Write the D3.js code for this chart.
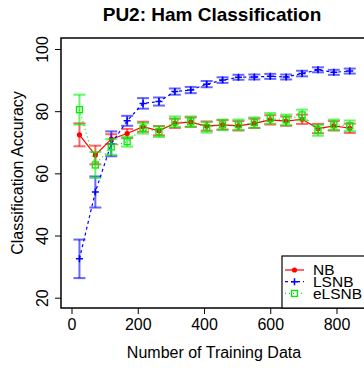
<!DOCTYPE html>
<html lang="en">
<head>
<meta charset="UTF-8">
<title>PU2: Ham Classification</title>
<style>
  body { margin: 0; background: #fff; }
  svg { display: block; }
  text { font-family: "Liberation Sans", Arial, sans-serif; fill: #000; }
</style>
</head>
<body>
<svg width="364" height="368"></svg>
<script src="https://d3js.org/d3.v7.min.js"></script>
<script>
// training set sizes
var trainSizes = [24, 72, 120, 168, 216, 264, 312, 360, 408, 456, 504, 552, 600, 648, 696, 744, 792, 840];

// mean accuracy per method
var nbMean    = [72.4, 65.9, 71.0, 72.8, 75.0, 73.7, 76.1, 76.5, 75.2, 75.6, 75.3, 76.1, 77.2, 76.8, 77.4, 74.4, 75.3, 74.5];
var lsnbMean  = [32.5, 54.0, 69.5, 76.9, 82.5, 83.1, 86.3, 86.8, 88.7, 90.0, 90.9, 91.0, 91.2, 91.0, 92.1, 93.3, 92.5, 92.9];
var elsnbMean = [80.5, 62.7, 68.5, 70.2, 74.5, 73.4, 76.6, 76.6, 74.8, 75.6, 75.6, 76.3, 77.7, 77.2, 78.8, 73.8, 75.6, 75.3];

// half-width of the error bars
var nbErr    = [3.7, 3.0, 1.6, 1.5, 1.6, 1.5, 1.5, 1.5, 1.5, 1.5, 1.5, 1.5, 1.5, 1.5, 1.5, 1.5, 1.5, 1.5];
var lsnbErr  = [6.2, 5.0, 4.0, 1.6, 1.7, 1.3, 1.0, 1.0, 1.0, 0.9, 0.8, 0.8, 0.8, 0.8, 0.9, 0.8, 0.8, 0.8];
var elsnbErr = [4.8, 4.2, 2.5, 1.6, 1.7, 1.7, 1.7, 1.7, 1.7, 1.7, 1.7, 1.7, 1.7, 1.7, 1.7, 1.7, 1.7, 1.7];

var xTicks = [0, 200, 400, 600, 800];
var yTicks = [20, 40, 60, 80, 100];

var svg = d3.select("svg");
var plotL = 61, plotR = 366, plotT = 38, plotB = 308;

var x = d3.scaleLinear().domain([0, 800]).range([71.5, 336.5]);
var y = d3.scaleLinear().domain([20, 100]).range([297.7, 49]);

var series = [
  { name: "NB",    mean: nbMean,    err: nbErr,    color: "#ff0000", dash: null,  mark: "dot" },
  { name: "LSNB",  mean: lsnbMean,  err: lsnbErr,  color: "#0000ff", dash: "3,3", mark: "plus" },
  { name: "eLSNB", mean: elsnbMean, err: elsnbErr, color: "#00ee00", dash: "1,3", mark: "square" }
];

// title
svg.append("text")
    .attr("x", 212).attr("y", 21)
    .attr("text-anchor", "middle")
    .style("font-size", "19px").style("font-weight", "bold")
    .text("PU2: Ham Classification");

// axes
var xAxis = svg.append("g")
    .attr("transform", "translate(0," + plotB + ")")
    .call(d3.axisBottom(x).tickValues(xTicks).tickSize(6).tickPadding(5));
var yAxis = svg.append("g")
    .attr("transform", "translate(" + plotL + ",0)")
    .call(d3.axisLeft(y).tickValues(yTicks).tickSize(6).tickPadding(4));
[xAxis, yAxis].forEach(function(g) {
  g.select(".domain").remove();
  g.selectAll("line").attr("stroke", "#000");
  g.selectAll("text").style("font-size", "16px").attr("fill", "#000");
});
yAxis.selectAll(".tick text")
    .attr("text-anchor", "middle")
    .attr("x", 0).attr("y", 0).attr("dy", "0.35em")
    .attr("transform", "translate(-19,0) rotate(-90)");

svg.append("text")
    .attr("x", 214).attr("y", 358)
    .attr("text-anchor", "middle")
    .style("font-size", "16px")
    .text("Number of Training Data");
svg.append("text")
    .attr("transform", "translate(23," + (plotT + plotB) / 2 + ") rotate(-90)")
    .attr("text-anchor", "middle")
    .style("font-size", "16px")
    .text("Classification Accuracy");

var plot = svg.append("g");

var line = d3.line()
    .x(function(d) { return x(d.x); })
    .y(function(d) { return y(d.y); });

series.forEach(function(s) {
  var pts = trainSizes.map(function(t, i) { return { x: t, y: s.mean[i], e: s.err[i] }; });
  var g = plot.append("g");

  // error bars
  var eb = g.append("g").attr("stroke", s.color).attr("stroke-opacity", 0.6).attr("stroke-width", 2);
  pts.forEach(function(d) {
    var cx = x(d.x);
    eb.append("line").attr("x1", cx).attr("x2", cx).attr("y1", y(d.y - d.e)).attr("y2", y(d.y + d.e));
    eb.append("line").attr("x1", cx - 6).attr("x2", cx + 6).attr("y1", y(d.y - d.e)).attr("y2", y(d.y - d.e));
    eb.append("line").attr("x1", cx - 6).attr("x2", cx + 6).attr("y1", y(d.y + d.e)).attr("y2", y(d.y + d.e));
  });

  g.append("path")
      .datum(pts)
      .attr("fill", "none")
      .attr("stroke", s.color)
      .attr("stroke-width", 1.2)
      .attr("stroke-dasharray", s.dash)
      .attr("d", line);

  drawMarks(g, pts.map(function(d) { return [x(d.x), y(d.y)]; }), s);
});

function drawMarks(g, xy, s) {
  xy.forEach(function(p) {
    if (s.mark === "dot") {
      g.append("circle").attr("cx", p[0]).attr("cy", p[1]).attr("r", 2.6).attr("fill", s.color);
    } else if (s.mark === "plus") {
      g.append("path").attr("d", "M" + (p[0] - 3.5) + "," + p[1] + "h7M" + p[0] + "," + (p[1] - 3.5) + "v7")
          .attr("stroke", s.color).attr("stroke-width", 1.5);
    } else {
      g.append("rect").attr("x", p[0] - 3).attr("y", p[1] - 3).attr("width", 6).attr("height", 6)
          .attr("fill", "none").attr("stroke", s.color).attr("stroke-width", 1.3);
    }
  });
}

// box
svg.append("rect")
    .attr("x", plotL).attr("y", plotT)
    .attr("width", plotR - plotL).attr("height", plotB - plotT)
    .attr("fill", "none").attr("stroke", "#000").attr("stroke-width", 1.5);

// legend
var leg = svg.append("g");
leg.append("rect")
    .attr("x", 282).attr("y", 256).attr("width", 90).attr("height", plotB - 256)
    .attr("fill", "#fff").attr("stroke", "#000").attr("stroke-width", 1.2);
series.forEach(function(s, i) {
  var ly = 270 + i * 11.7;
  leg.append("line").attr("x1", 285).attr("x2", 304).attr("y1", ly).attr("y2", ly)
      .attr("stroke", s.color).attr("stroke-width", 1.2).attr("stroke-dasharray", s.dash);
  drawMarks(leg, [[294.5, ly]], s);
  leg.append("text").attr("x", 313).attr("y", ly).attr("dy", "0.35em")
      .style("font-size", "15.5px").text(s.name);
});
</script>
</body>
</html>
